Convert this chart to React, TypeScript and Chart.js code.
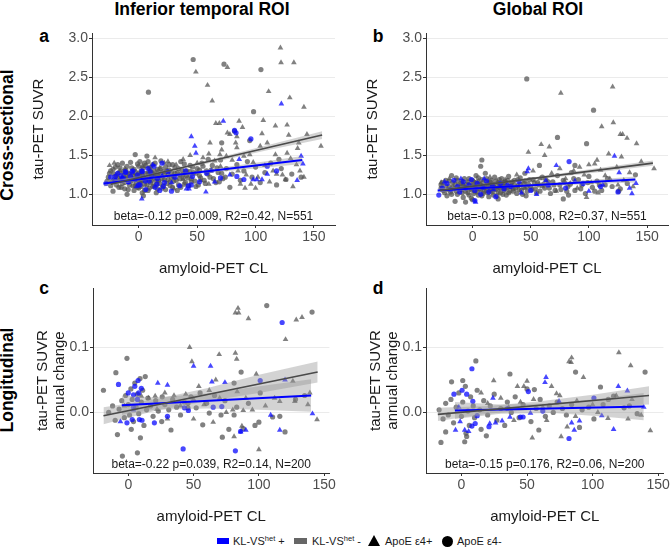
import React, { useEffect, useRef } from "react";
import { Chart, registerables } from "chart.js";
Chart.register(...registerables);

type P = [number, number];

// ---------- axis ticks ----------
const xTicks = [0, 50, 100, 150];
const yTicksTop = [1.0, 1.5, 2.0, 2.5, 3.0];
const yTicksBottom = [0.0, 0.1];

// ---------- panel a : inferior temporal, cross-sectional ----------
const aGrayCirc: P[] = [[46.6,2.73],[8.3,2.31],[73,2.67],[104.6,2.60],[98.3,2.06],[82,1.81],[71,1.66],[59.5,1.45],[95,1.69],
[-26,1.22],[-24,1.30],[-23,1.16],[-21,1.26],[-20,1.35],[-19,1.12],[-18,1.21],[-17,1.28],[-16,1.18],[-15,1.09],[-14,1.40],[-13,1.24],[-12,1.15],[-11,1.31],[-10,1.20],[-9,1.06],[-8,1.26],[-7,1.17],[-6,1.34],[-5,1.11],[-4,1.23],[-3,1.51],[-3,1.29],[-2,1.14],[-1,1.20],[0,1.36],[0,1.08],[1,1.25],[2,1.17],[2,1.30],[3,1.02],[4,1.22],[5,1.40],[5,1.13],[6,1.27],[7,1.49],[7,1.19],[8,1.05],[9,1.33],[9,1.23],[10,1.15],[11,1.28],[12,1.10],[12,1.38],[13,1.21],[14,1.26],[15,1.13],[16,1.32],[17,1.18],[18,1.24],[19,1.43],[20,1.08],[21,1.29],[22,1.19],[23,1.35],[24,1.14],[25,1.25],[26,1.31],[27,1.11],[28,1.22],[29,1.38],[30,1.17],[31,1.27],[33,1.05],[34,1.33],[35,1.20],[36,1.42],[38,1.26],[39,1.13],[41,1.30],[42,1.21],[44,1.37],[45,1.16],[47,1.28],[49,1.10],[50,1.33],[52,1.24],[54,1.40],[56,1.18],[58,1.30],[61,1.22],[63,1.37],[66,1.15],[68,1.28],[70,1.44],[72,1.20],[75,1.33],[78,1.09],[80,1.26],[84,1.38],[87,1.18],[90,1.30],[93,1.42],[97,1.22],[100,1.35],[104,1.15],[108,1.28],[113,1.40],[118,1.12],[122,1.33],[126,1.19],[131,1.26],[139,1.22],[120,1.45],[-22,1.04],[-10,1.00],[4,0.98],[15,1.02],
[-27,1.17],[-25,1.27],[-24,1.11],[-22,1.32],[-21,1.19],[-19,1.24],[-18,1.38],[-17,1.09],[-16,1.34],[-15,1.20],[-14,1.14],[-13,1.29],[-12,1.07],[-11,1.22],[-10,1.36],[-9,1.27],[-8,1.12],[-7,1.41],[-6,1.21],[-5,1.18],[-4,1.05],[-4,1.32],[-3,1.11],[-2,1.24],[-1,1.39],[-1,1.09],[0,1.27],[1,1.15],[1,1.42],[2,1.10],[3,1.25],[3,1.18],[4,1.34],[5,1.05],[6,1.20],[6,1.37],[7,1.12],[8,1.27],[8,1.42],[9,1.08],[10,1.21],[10,1.35],[11,1.17],[12,1.25],[13,1.11],[13,1.30],[14,1.40],[15,1.18],[16,1.07],[16,1.24],[17,1.29],[18,1.14],[19,1.33],[20,1.20],[21,1.11],[22,1.26],[23,1.06],[24,1.30],[25,1.19],[26,1.38],[27,1.16],[28,1.28],[29,1.09],[30,1.23],[31,1.34],[32,1.18],[33,1.28],[34,1.12],[35,1.25],[36,1.09],[37,1.31],[38,1.21],[39,1.39],[40,1.15],[41,1.24],[43,1.11],[44,1.29],[45,1.20],[46,1.35],[48,1.17],[49,1.27],[51,1.12],[52,1.31],[53,1.21],[55,1.36],[57,1.14],[59,1.26],[62,1.31],[64,1.20],[67,1.34],[69,1.16],[71,1.27],[74,1.22]];
const aGrayTri: P[] = [[48.9,2.57],[75.9,2.63],[58.9,2.40],[62.9,2.20],[121.3,2.88],[121.8,2.69],[132.8,2.69],[111.2,2.32],[129.3,2.24],[141.4,2.12],[106.6,1.95],[85.9,1.94],[66,1.91],[69,1.91],[117,1.88],[127,1.89],[88.8,1.86],[105.5,1.78],[75.9,1.79],[78,1.77],[128.4,1.76],[144,1.77],[156,1.62],[84,1.74],[83,1.66],[61,1.66],[84,1.60],[104,1.62],[110,1.66],[137,1.66],[71,1.57],[69.5,1.51],[75,1.49],[90,1.49],[95,1.51],[117,1.51],[127,1.53],[136,1.59],[138,1.30],[141.4,1.22],[125.6,1.19],[118,1.26],[91,1.08],[87,1.13],
[-21,1.40],[-25,1.37],[-12,1.33],[-5,1.27],[3,1.36],[10,1.30],[18,1.34],[25,1.42],[32,1.38],[38,1.45],[44,1.50],[50,1.40],[55,1.47],[60,1.52],[65,1.43],[70,1.36],[80,1.44],[85,1.30],[92,1.25],[98,1.41],[102,1.22],[108,1.37],[115,1.30],[123,1.25],[130,1.46],[135,1.38],[96,1.13],[112,1.16],[100,1.08],[132,1.10],[60,1.13],[53,1.18],[45,1.26],[38,1.19],[30,1.07],[22,1.40],[14,1.47],[-16,1.30]];
const aBlueCirc: P[] = [[82,1.82],[83.3,1.79],[96,1.71],[90,1.19],[52,1.16],[84,1.23],
[-28,1.14],[-24,1.22],[-20,1.18],[-18,1.27],[-15,1.24],[-13,1.20],[-11,1.28],[-9,1.16],[-7,1.23],[-5,1.30],[-3,1.19],[-1,1.25],[1,1.12],[3,1.29],[4,1.21],[6,1.06],[8,1.33],[9,1.17],[11,1.24],[13,1.36],[14,1.09],[16,1.20],[18,1.05],[20,1.40],[22,1.15],[25,1.29],[28,1.04],[31,1.22],[35,1.11],[40,1.30],[46,1.23],[58,1.27],[70,1.21],[110,1.36],[118,1.30],
[-20,1.23],[-11.5,1.29],[-5.8,1.29],[2.7,1.30],[9.8,1.29],[15.6,1.13],[5.7,1.17],[-8.6,1.16],[-14,1.20],[0,1.12],[21,1.10],[42.5,1.11],[45,1.12]];
const aBlueTri: P[] = [[122.1,2.16],[72.4,1.94],[45,1.74],[48,1.62],[49,1.53],[139,1.49],[140.5,1.39],[135.6,1.18],[110,1.26],[101,1.19],[98,1.19],[105.5,1.19],[57.5,1.03],[43,1.07],[40.8,1.07],[2.6,0.94],[65,1.16],[-14,1.21],[-2,1.10],[12,1.38],[20,1.24],[28,1.15],[62,1.30],[78,1.25],[86,1.45]];
const aGrayLine: P[] = [[-24,1.13],[157,1.76]];
const aGrayLo: P[] = [[-24,1.10],[20,1.27],[60,1.40],[110,1.565],[157,1.71]];
const aGrayHi: P[] = [[-24,1.165],[20,1.30],[60,1.44],[110,1.63],[157,1.81]];
const aBlueLine: P[] = [[-30,1.14],[140,1.44]];
const aBlueLo: P[] = [[-30,1.10],[20,1.21],[60,1.275],[100,1.33],[140,1.39]];
const aBlueHi: P[] = [[-30,1.18],[20,1.245],[60,1.32],[100,1.405],[140,1.49]];

// ---------- panel b : global, cross-sectional ----------
const bGrayCirc: P[] = [[46.6,2.48],[104,2.08],[73,1.73],[98,1.65],[8,1.44],[57.5,1.37],[7,1.36],[88,1.37],[140,1.25],[125.6,1.04],[127,1.07],[78,0.94],[82.5,0.99],[114,1.12],[-15,0.91],[-6,0.90],
[-27,1.12],[-25,1.05],[-23,1.18],[-22,0.98],[-20,1.10],[-19,1.03],[-17,1.15],[-16,1.07],[-14,1.21],[-13,1.00],[-12,1.12],[-10,1.06],[-9,1.17],[-8,0.96],[-7,1.09],[-5,1.13],[-4,1.02],[-3,1.20],[-2,1.07],[-1,0.95],[0,1.11],[1,1.16],[2,1.04],[3,1.24],[4,1.09],[5,0.99],[6,1.13],[7,1.06],[8,1.19],[9,1.01],[10,1.10],[11,1.27],[12,1.05],[13,1.14],[14,0.97],[15,1.08],[16,1.18],[17,1.03],[18,1.12],[19,1.22],[20,1.06],[21,0.98],[22,1.15],[23,1.09],[24,1.02],[25,1.20],[26,1.11],[27,1.05],[28,1.16],[29,0.99],[30,1.09],[31,1.23],[32,1.04],[33,1.13],[35,1.07],[36,1.18],[38,1.01],[39,1.11],[41,1.21],[42,1.05],[44,1.14],[46,0.98],[47,1.10],[49,1.19],[51,1.06],[53,1.15],[55,1.02],[57,1.12],[60,1.22],[62,1.08],[65,1.16],[67,1.01],[70,1.12],[73,1.24],[76,1.06],[79,1.15],[82,1.10],[85,1.28],[88,1.05],[91,1.19],[94,1.12],[97,1.01],[100,1.23],[103,1.09],[107,1.17],[111,1.05],[116,1.20],[120,1.10],[133,1.14],[-18,1.24],[0,0.93],[22,0.94],[45,1.27],
[-27,1.08],[-26,1.15],[-24,1.02],[-23,1.11],[-21,1.06],[-20,1.17],[-18,1.00],[-17,1.09],[-15,1.13],[-14,1.04],[-13,1.18],[-11,1.08],[-10,1.14],[-9,1.02],[-8,1.11],[-7,1.20],[-6,1.04],[-5,1.09],[-4,1.16],[-3,0.99],[-2,1.12],[-1,1.06],[0,1.18],[1,1.01],[2,1.10],[3,1.15],[4,1.03],[5,1.21],[6,1.07],[7,1.12],[8,0.98],[9,1.15],[10,1.04],[11,1.09],[12,1.20],[13,1.02],[14,1.11],[15,1.16],[16,1.05],[17,1.13],[18,0.99],[19,1.08],[20,1.17],[21,1.10],[22,1.03],[23,1.19],[24,1.08],[25,1.13],[26,1.00],[27,1.15],[28,1.07],[29,1.11],[30,1.18],[31,1.02],[32,1.10],[34,1.16],[35,1.04],[36,1.12],[37,1.08],[39,1.19],[40,1.06],[41,1.13],[43,1.00],[44,1.09],[45,1.17],[47,1.04],[48,1.13],[50,1.10],[52,1.19],[54,1.07],[56,1.15],[58,1.04],[61,1.13],[63,1.19],[66,1.08],[69,1.16],[71,1.05],[75,1.12],[78,1.18],[81,1.04],[84,1.13],[87,1.20],[93,1.07],[99,1.15],[105,1.04],[109,1.12]];
const bGrayTri: P[] = [[75.9,2.30],[120.4,2.38],[111,1.87],[121,1.92],[127,1.77],[129,1.77],[132.8,1.72],[141,1.65],[59,1.64],[66,1.61],[48,1.54],[62,1.50],[107,1.44],[117,1.52],[128,1.48],[145,1.42],[156,1.33],[100,1.38],[105,1.39],[130,1.18],[114,1.24],
[-27,1.15],[-20,1.20],[-8,1.13],[5,1.17],[15,1.22],[28,1.19],[38,1.25],[52,1.30],[58,1.20],[68,1.27],[75,1.33],[80,1.20],[87,1.30],[92,1.35],[96,1.25],[102,1.15],[110,1.31],[118,1.20],[124,1.35],[135,1.28],[138,1.10],[90,1.08],[72,1.04],[60,1.10],[45,1.08],[108,1.02],[98,0.96],[84,1.14],[125,1.12]];
const bBlueCirc: P[] = [[83,1.42],[2,0.92],[-29,0.99],
[-26,1.08],[-22,1.14],[-19,1.06],[-16,1.18],[-13,1.10],[-11,1.03],[-8,1.16],[-6,1.08],[-3,1.12],[-1,1.19],[2,1.05],[4,1.14],[7,1.00],[9,1.09],[12,1.17],[14,1.03],[17,1.11],[20,0.97],[24,1.14],[27,1.07],[33,1.10],[40,1.16],[50,1.05],[65,1.12],[80,1.08],[95,1.14],[110,1.10],[125,1.03]];
const bBlueTri: P[] = [[122,1.49],[72,1.37],[48,1.33],[47,1.29],[137,1.01],[140.5,1.14],[126,1.28],[2.6,0.90],[-24,1.16],[-10,1.20],[3,1.10],[10,1.20],[18,1.06],[30,1.13],[42,1.02],[55,1.00],[63,1.18],[88,1.17],[100,1.04],[112,1.12],[135,1.08]];
const bGrayLine: P[] = [[-28,1.05],[155,1.40]];
const bGrayLo: P[] = [[-28,1.03],[20,1.13],[60,1.20],[110,1.285],[155,1.365]];
const bGrayHi: P[] = [[-28,1.07],[20,1.155],[60,1.235],[110,1.34],[155,1.435]];
const bBlueLine: P[] = [[-30,1.05],[140,1.19]];
const bBlueLo: P[] = [[-30,1.02],[20,1.078],[60,1.105],[100,1.13],[140,1.15]];
const bBlueHi: P[] = [[-30,1.08],[20,1.104],[60,1.143],[100,1.185],[140,1.23]];

// ---------- panel c : inferior temporal, longitudinal ----------
const cGrayCirc: P[] = [[106,0.164],[140.7,0.154],[-19,0.034],[-1,0.083],[-9.5,0.061],[86.4,0.062],[100,-0.015],[72,-0.038],[77,-0.026],[88,-0.025],[110.5,-0.007],[-4.5,-0.067],[7,-0.062],[9.3,-0.039],[-8.3,-0.034],[2.3,-0.026],[45.7,0.007],[57,-0.019],[52,0.007],[32.7,-0.027],[25.6,-0.014],[62,-0.001],[71,-0.004],[81,-0.004],[116,-0.006],[101,0.030],[81,0.045],[45.7,0.014],
[-15,0.000],[-12,0.010],[-10,-0.012],[-7,0.005],[-5,0.018],[-3,-0.008],[-2,0.026],[0,0.012],[1,-0.004],[2,0.036],[3,0.020],[4,-0.014],[5,0.045],[6,0.008],[7,0.028],[8,-0.002],[9,0.052],[10,0.016],[11,0.034],[12,-0.020],[13,0.055],[14,0.004],[15,0.022],[17,0.010],[19,-0.006],[21,0.018],[23,0.002],[26,0.024],[28,0.012],[31,0.004],[34,0.020],[37,0.008],[40,-0.004],[43,0.016],[48,0.024],[55,0.030],[60,0.014],[66,0.026],[74,0.018],[83,0.008],[92,0.014],[97,-0.020],[120,-0.030],[128,0.020],[135,0.026]];
const cGrayTri: P[] = [[84,0.160],[82,0.153],[84.5,0.153],[92,0.144],[128.6,0.142],[133,0.146],[120.4,0.112],[82,0.091],[83,0.082],[69.6,0.089],[47,0.100],[48.7,0.078],[98,0.059],[67,0.050],[83.4,0.032],[126,0.048],[139,0.030],[116,0.017],[127.5,0.017],[137.5,0.012],[144.5,-0.011],[88,0.003],[80,0.004],[100,-0.057],[81,-0.037],[87,-0.021],[28,0.030],[20.6,0.025],[15.6,0.022],
[35,0.026],[40,0.010],[44,0.028],[50,0.020],[54,0.040],[58,0.012],[62,0.034],[70,0.022],[75,0.000],[90,0.022],[95,0.004],[105,0.010],[112,0.022],[50,-0.010],[65,-0.015],[30,-0.010],[22,0.005],[10,0.025],[-3,0.010]];
const cBlueCirc: P[] = [[117.8,0.138],[42,-0.056],[82,-0.059],[101,0.049],[86,-0.029],[65,0.008],[71.6,0.009],[43,0.007],[46,0.003],[30,-0.006],[20,-0.016],[-7.5,0.043],[7.5,0.049],[0,0.030],[4,0.027],[10,0.037],[7,0.020],[4,0.008],[3,-0.011],[8.5,-0.011],[10.5,-0.012],[-1,-0.016],[5,0.040],[8,0.030]];
const cBlueTri: P[] = [[22.6,0.045],[30,0.042],[63,0.071],[50,0.071],[64,0.047],[74,0.046],[120,0.050],[141,-0.002],[109,-0.004],[116,-0.027],[90,-0.027],[-6,-0.014],[4,0.004],[86,-0.030]];
const cGrayLine: P[] = [[-19,-0.005],[145,0.062]];
const cGrayLo: P[] = [[-19,-0.018],[20,0.002],[60,0.017],[100,0.030],[145,0.046]];
const cGrayHi: P[] = [[-19,0.008],[20,0.020],[60,0.037],[100,0.058],[145,0.078]];
const cBlueLine: P[] = [[-5,0.011],[140,0.026]];
const cBlueLo: P[] = [[-5,-0.004],[20,0.004],[60,0.006],[100,0.004],[140,0.001]];
const cBlueHi: P[] = [[-5,0.026],[20,0.023],[60,0.029],[100,0.040],[140,0.051]];

// ---------- panel d : global, longitudinal ----------
const dGrayCirc: P[] = [[87,0.062],[140,0.062],[11,0.079],[-7.5,0.047],[1,0.049],[37,0.059],[55.6,0.035],[106,0.039],[116,0.025],[108,0.012],[97,0.008],[124,0.007],[101,-0.010],[90,-0.023],[59,-0.027],[-15.6,-0.046],[-12,-0.030],[2.5,-0.045],[4,-0.037],[3.5,-0.032],[19,-0.036],
[-17,0.004],[-14,-0.010],[-12,0.014],[-10,-0.004],[-8,0.020],[-6,-0.016],[-4,0.008],[-2,0.030],[0,-0.006],[1,0.016],[3,0.040],[5,0.002],[6,-0.020],[7,0.024],[9,0.010],[10,-0.008],[12,0.034],[14,0.004],[15,-0.026],[17,0.018],[20,-0.004],[22,0.010],[25,0.028],[27,-0.012],[30,0.006],[33,-0.020],[35,0.016],[38,0.000],[41,0.024],[44,-0.008],[47,0.012],[50,0.036],[53,-0.014],[57,0.006],[60,0.020],[64,-0.006],[67,0.010],[70,0.000],[73,0.016],[77,0.006],[80,-0.004],[84,0.012],[92,0.004],[112,0.020],[128,0.010],[134,-0.002]];
const dGrayTri: P[] = [[120,0.092],[84,0.084],[83.6,0.077],[82,0.078],[93,0.054],[129,0.072],[24.6,0.049],[42.7,0.040],[47.6,0.040],[50,0.048],[68.7,0.040],[72.5,0.029],[127,-0.010],[137,-0.004],[144,-0.028],[111.7,-0.009],[87,-0.006],[76,-0.037],[80.6,-0.022],[54,-0.039],
[15,0.030],[20,0.014],[30,0.022],[36,0.008],[45,0.016],[55,0.020],[62,0.008],[75,0.026],[88,0.018],[100,0.012],[118,0.026],[130,0.020],[40,-0.012],[65,-0.012],[104,0.000]];
const dBlueCirc: P[] = [[8,0.067],[51,0.032],[101,0.022],[82,-0.040],[8,-0.021],[10.5,-0.017],[21,-0.022],[45,-0.007],[47,-0.007],[-5.7,0.028],[0.5,0.034],[4,0.028],[8.7,0.017],[12,-0.005],[35,0.006],[62,0.002]];
const dBlueTri: P[] = [[64.5,0.054],[63.7,0.046],[119.6,0.040],[126.5,0.033],[116,-0.026],[84,-0.016],[86,-0.027],[90,-0.013],[-4.5,-0.027],[2.5,-0.027],[5.5,-0.029],[-1,-0.014],[21.6,-0.017],[26,-0.016],[31,-0.013],[-2,0.008],[37,-0.007],[52.6,-0.001],[74.4,0.017],[107,-0.005],[139,0.008],[24,0.022]];
const dGrayLine: P[] = [[-18,-0.003],[143,0.026]];
const dGrayLo: P[] = [[-18,-0.013],[20,-0.002],[60,0.005],[100,0.009],[143,0.012]];
const dGrayHi: P[] = [[-18,0.007],[20,0.010],[60,0.017],[100,0.027],[143,0.040]];
const dBlueLine: P[] = [[-5,0.003],[139,0.009]];
const dBlueLo: P[] = [[-5,-0.010],[30,-0.002],[70,-0.001],[105,-0.006],[139,-0.012]];
const dBlueHi: P[] = [[-5,0.016],[30,0.012],[70,0.014],[105,0.021],[139,0.030]];

// ---------- annotations ----------
const statsA = "beta=-0.12 p=0.009, R2=0.42, N=551";
const statsB = "beta=-0.13 p=0.008, R2=0.37, N=551";
const statsC = "beta=-0.22 p=0.039, R2=0.14, N=200";
const statsD = "beta=-0.15 p=0.176, R2=0.06, N=200";

const FONT = "'Liberation Sans', Arial, Helvetica, sans-serif";
const GRAY = "rgba(80,80,80,0.72)";
const BLUE = "rgba(10,10,255,0.75)";
const BAND = "rgba(150,150,150,0.42)";

Chart.defaults.font.family = FONT;

const pts = (a: P[]) => a.map(([x, y]) => ({ x, y }));

interface Spec {
  left: number; top: number; width: number; height: number;
  padRight: number; yWidth: number;
  xMin: number; xMax: number; yMin: number; yMax: number; yTicks: number[];
  yTitle: string | string[]; stats: string;
  grayCirc: P[]; grayTri: P[]; blueCirc: P[]; blueTri: P[];
  grayLine: P[]; grayLo: P[]; grayHi: P[]; blueLine: P[]; blueLo: P[]; blueHi: P[];
}

function Panel({ s }: { s: Spec }) {
  const ref = useRef<HTMLCanvasElement>(null);
  useEffect(() => {
    const annot = {
      id: "annot",
      afterDatasetsDraw(chart: any) {
        const { ctx, chartArea } = chart;
        ctx.save();
        ctx.font = `12px ${FONT}`;
        ctx.fillStyle = "#1a1a1a";
        ctx.textAlign = "center";
        ctx.textBaseline = "middle";
        ctx.fillText(s.stats, (chartArea.left + chartArea.right) / 2, chartArea.bottom - 8);
        ctx.restore();
      },
    };
    const lineDs = (d: P[], color: string, w: number) => ({
      type: "line" as const, data: pts(d), borderColor: color, borderWidth: w,
      pointRadius: 0, fill: false, order: 0,
    });
    const datasets: any[] = [
      lineDs(s.grayLine, "#4a4a4a", 1.6),
      lineDs(s.blueLine, "#0000ff", 2),
      { type: "line", data: pts(s.grayLo), borderWidth: 0, pointRadius: 0, fill: false, order: 1 },
      { type: "line", data: pts(s.grayHi), borderWidth: 0, pointRadius: 0, fill: 2, backgroundColor: BAND, order: 1 },
      { type: "line", data: pts(s.blueLo), borderWidth: 0, pointRadius: 0, fill: false, order: 1 },
      { type: "line", data: pts(s.blueHi), borderWidth: 0, pointRadius: 0, fill: 4, backgroundColor: BAND, order: 1 },
      { type: "scatter", data: pts(s.blueCirc), pointStyle: "circle", pointRadius: 2.6, backgroundColor: BLUE, borderWidth: 0, order: 2 },
      { type: "scatter", data: pts(s.blueTri), pointStyle: "triangle", pointRadius: 3.3, backgroundColor: BLUE, borderWidth: 0, order: 2 },
      { type: "scatter", data: pts(s.grayCirc), pointStyle: "circle", pointRadius: 2.6, backgroundColor: GRAY, borderWidth: 0, order: 3 },
      { type: "scatter", data: pts(s.grayTri), pointStyle: "triangle", pointRadius: 3.3, backgroundColor: GRAY, borderWidth: 0, order: 3 },
    ];
    const chart = new Chart(ref.current as HTMLCanvasElement, {
      type: "scatter",
      data: { datasets },
      options: {
        animation: false,
        responsive: false,
        devicePixelRatio: 1,
        layout: { padding: { left: 0, top: 10, right: s.padRight, bottom: 0 } },
        plugins: { legend: { display: false }, tooltip: { enabled: false } },
        scales: {
          x: {
            type: "linear", min: s.xMin, max: s.xMax,
            afterFit: (sc: any) => { sc.height = 52; },
            afterBuildTicks: (sc: any) => { sc.ticks = xTicks.map((v) => ({ value: v })); },
            ticks: { color: "#4d4d4d", font: { size: 14 }, padding: 1, maxRotation: 0, autoSkip: false, callback: (v: any) => String(v) },
            grid: { drawOnChartArea: false, drawTicks: true, tickLength: 3, tickColor: "#333333", tickWidth: 1 },
            border: { display: true, color: "#333333", width: 1 },
            title: { display: true, text: "amyloid-PET CL", color: "#1a1a1a", font: { size: 15, lineHeight: 1.1 }, padding: 0 },
          },
          y: {
            type: "linear", min: s.yMin, max: s.yMax,
            afterFit: (sc: any) => { sc.width = s.yWidth; },
            afterBuildTicks: (sc: any) => { sc.ticks = s.yTicks.map((v) => ({ value: v })); },
            ticks: { color: "#4d4d4d", font: { size: 14 }, padding: 1, autoSkip: false, callback: (v: any) => Number(v).toFixed(1) },
            grid: { drawOnChartArea: true, color: "#ebebeb", lineWidth: 1, drawTicks: true, tickLength: 3, tickColor: "#333333" },
            border: { display: true, color: "#333333", width: 1 },
            title: { display: true, text: s.yTitle as any, color: "#1a1a1a", font: { size: 15, lineHeight: 1.1 }, padding: 0 },
          },
        },
      } as any,
      plugins: [annot],
    });
    return () => chart.destroy();
  }, []);
  return (
    <canvas
      ref={ref}
      width={s.width}
      height={s.height}
      style={{ position: "absolute", left: s.left, top: s.top, width: s.width, height: s.height }}
    />
  );
}

const specA: Spec = {
  left: 31, top: 23, width: 309, height: 254, padRight: 5, yWidth: 61,
  xMin: -40, xMax: 168, yMin: 0.606, yMax: 3.07, yTicks: yTicksTop,
  yTitle: "tau-PET SUVR", stats: statsA,
  grayCirc: aGrayCirc, grayTri: aGrayTri, blueCirc: aBlueCirc, blueTri: aBlueTri,
  grayLine: aGrayLine, grayLo: aGrayLo, grayHi: aGrayHi, blueLine: aBlueLine, blueLo: aBlueLo, blueHi: aBlueHi,
};
const specB: Spec = {
  left: 365, top: 23, width: 307, height: 254, padRight: 2, yWidth: 61,
  xMin: -40, xMax: 168, yMin: 0.606, yMax: 3.07, yTicks: yTicksTop,
  yTitle: "tau-PET SUVR", stats: statsB,
  grayCirc: bGrayCirc, grayTri: bGrayTri, blueCirc: bBlueCirc, blueTri: bBlueTri,
  grayLine: bGrayLine, grayLo: bGrayLo, grayHi: bGrayHi, blueLine: bBlueLine, blueLo: bBlueLo, blueHi: bBlueHi,
};
const specC: Spec = {
  left: 35, top: 278, width: 302, height: 247, padRight: 5, yWidth: 58,
  xMin: -27, xMax: 154, yMin: -0.093, yMax: 0.191, yTicks: yTicksBottom,
  yTitle: ["tau-PET SUVR", "annual change"], stats: statsC,
  grayCirc: cGrayCirc, grayTri: cGrayTri, blueCirc: cBlueCirc, blueTri: cBlueTri,
  grayLine: cGrayLine, grayLo: cGrayLo, grayHi: cGrayHi, blueLine: cBlueLine, blueLo: cBlueLo, blueHi: cBlueHi,
};
const specD: Spec = {
  left: 368, top: 278, width: 303, height: 247, padRight: 5, yWidth: 58,
  xMin: -27, xMax: 154, yMin: -0.093, yMax: 0.191, yTicks: yTicksBottom,
  yTitle: ["tau-PET SUVR", "annual change"], stats: statsD,
  grayCirc: dGrayCirc, grayTri: dGrayTri, blueCirc: dBlueCirc, blueTri: dBlueTri,
  grayLine: dGrayLine, grayLo: dGrayLo, grayHi: dGrayHi, blueLine: dBlueLine, blueLo: dBlueLo, blueHi: dBlueHi,
};

const boldText = (text: string, x: number, y: number, rotate = false): React.ReactElement => (
  <div
    style={{
      position: "absolute", left: x, top: y, whiteSpace: "nowrap", lineHeight: 1,
      fontFamily: FONT, fontWeight: "bold", fontSize: 17.5, color: "#000",
      transform: `translate(-50%, -50%)${rotate ? " rotate(-90deg)" : ""}`,
    }}
  >
    {text}
  </div>
);

const legendText = (content: React.ReactNode, x: number, y: number) => (
  <div style={{ position: "absolute", left: x, top: y, transform: "translateY(-50%)", whiteSpace: "nowrap", fontFamily: FONT, fontSize: 11, lineHeight: 1, color: "#1a1a1a" }}>
    {content}
  </div>
);

const sup = (t: string) => (
  <span style={{ fontSize: 7.5, verticalAlign: "top", lineHeight: 1, position: "relative", top: -1 }}>{t}</span>
);

export default function App() {
  const ly = 541;
  return (
    <div style={{ position: "absolute", left: 0, top: 0, width: 672, height: 547, background: "#fff", overflow: "hidden" }}>
      {boldText("Inferior temporal ROI", 202, 10)}
      {boldText("Global ROI", 538, 10)}
      {boldText("Cross-sectional", 8, 135, true)}
      {boldText("Longitudinal", 8, 380, true)}
      {boldText("a", 44, 37)}
      {boldText("b", 378, 37)}
      {boldText("c", 44, 289)}
      {boldText("d", 378, 289)}
      <Panel s={specA} />
      <Panel s={specB} />
      <Panel s={specC} />
      <Panel s={specD} />
      <div style={{ position: "absolute", left: 217, top: ly - 3, width: 12, height: 6, background: "#0000ff" }} />
      {legendText(<span>KL-VS{sup("het")} +</span>, 233, ly)}
      <div style={{ position: "absolute", left: 294, top: ly - 3, width: 13, height: 6, background: "#666666" }} />
      {legendText(<span>KL-VS{sup("het")} -</span>, 312, ly)}
      <svg style={{ position: "absolute", left: 368, top: ly - 6 }} width={12} height={11}>
        <polygon points="6,0 12,11 0,11" fill="#000" />
      </svg>
      {legendText(<span>ApoE ε4+</span>, 385, ly)}
      <svg style={{ position: "absolute", left: 442, top: ly - 5.5 }} width={11} height={11}>
        <circle cx={5.5} cy={5.5} r={5.5} fill="#000" />
      </svg>
      {legendText(<span>ApoE ε4-</span>, 457, ly)}
    </div>
  );
}
